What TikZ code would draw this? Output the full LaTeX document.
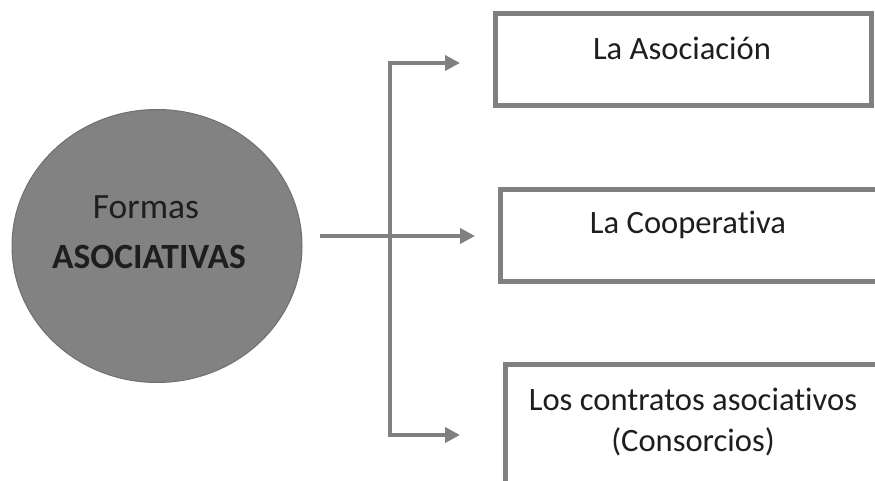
\documentclass[tikz,border=0pt]{standalone}
\usepackage{fontspec}
\setmainfont[Ligatures=NoCommon]{Carlito}
\usetikzlibrary{arrows.meta,shapes.geometric}
\definecolor{lgray}{RGB}{128,128,128}
\definecolor{cfill}{RGB}{130,130,130}
\definecolor{cedge}{RGB}{112,112,112}
\definecolor{txt}{RGB}{30,30,30}
\tikzset{
  x=1pt,y=1pt,
  boxframe/.style={draw=lgray,line width=5pt,fill=white,rectangle,inner sep=0pt},
  boxtext/.style={text=txt,font=\fontsize{32.6}{41}\selectfont,align=center,inner sep=0pt},
  circtext/.style={text=txt,font=\fontsize{35.5}{42}\selectfont,inner sep=0pt},
  conn/.style={draw=lgray,line width=4pt},
  arr/.style={conn,-{Triangle[length=15pt,width=15pt]}},
}
\begin{document}
\begin{tikzpicture}
\useasboundingbox (0,0) rectangle (875,481);
\clip (0,0) rectangle (875,481);
% circle
\node[ellipse,draw=cedge,line width=1pt,fill=cfill,minimum width=290pt,minimum height=273pt,inner sep=0pt] (c) at (157,235) {};
\node[circtext] (ct1) at (146,274) {Formas};
\node[circtext,font=\fontsize{35.5}{42}\selectfont\bfseries] (ct2) at (149,224) {ASOCIATIVAS};
% boxes
\node[boxframe,minimum width=376pt,minimum height=92pt] (b1) at (683,421.5) {};
\node[boxframe,minimum width=400pt,minimum height=92pt] (b2) at (700,245.5) {};
\node[boxframe,minimum width=400pt,minimum height=140pt] (b3) at (705,46) {};
\node[boxtext] (t1) at (682,433) {La Asociación};
\node[boxtext] (t2) at (688,256) {La Cooperativa};
\node[boxtext] (t3) at (693,59) {Los contratos asociativos\\(Consorcios)};
% connectors
\coordinate (s) at (320,245);
\coordinate (j) at (390,245);
\coordinate (jt) at (390,418);
\coordinate (jb) at (390,46);
\coordinate (e1) at (460,418);
\coordinate (e2) at (475,245);
\coordinate (e3) at (460,46);
\draw[conn] (jt) -- (jb);
\draw[arr] (s) -- (e2);
\draw[arr] ([xshift=-2pt]jt) -- (e1);
\draw[arr] ([xshift=-2pt]jb) -- (e3);
\end{tikzpicture}
\end{document}
